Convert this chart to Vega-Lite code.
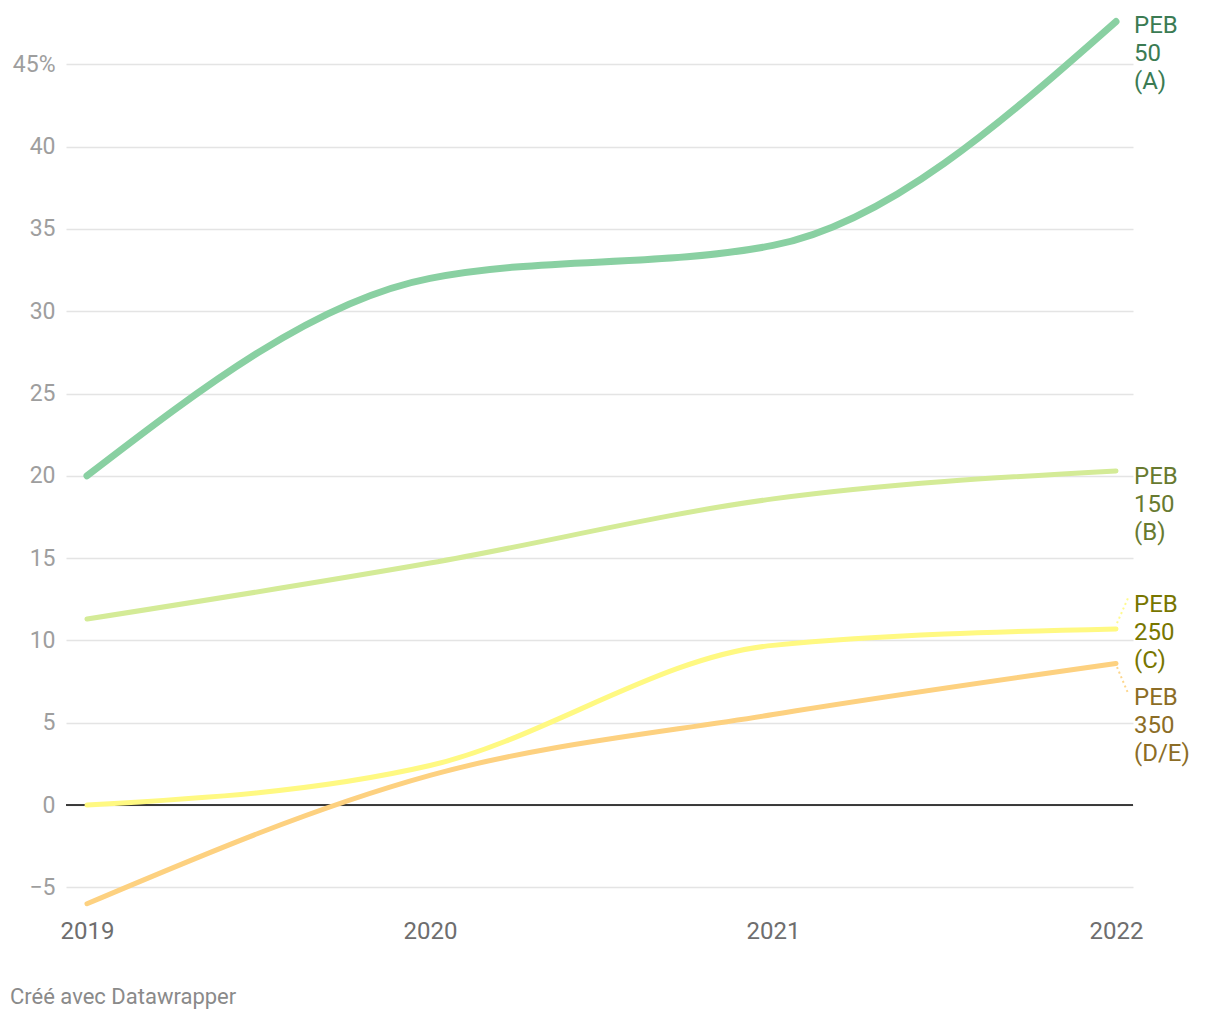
{
  "$schema": "https://vega.github.io/schema/vega-lite/v6.json",
  "width": 1067,
  "height": 897,
  "autosize": "none",
  "padding": {"left": 66, "top": 15, "right": 87, "bottom": 108},
  "background": "white",
  "config": {"font": "Roboto", "view": {"stroke": null}},
  "title": {
    "text": "Créé avec Datawrapper",
    "orient": "bottom",
    "anchor": "start",
    "frame": "group",
    "dx": -56,
    "offset": 44,
    "fontSize": 22,
    "fontWeight": "normal",
    "color": "#8a8a8a"
  },
  "datasets": {
    "lines": [
      {"series": "PEB 50", "year": 2019, "value": 20.0},
      {"series": "PEB 50", "year": 2020, "value": 32.0},
      {"series": "PEB 50", "year": 2021, "value": 34.0},
      {"series": "PEB 50", "year": 2022, "value": 47.6},
      {"series": "PEB 150", "year": 2019, "value": 11.3},
      {"series": "PEB 150", "year": 2020, "value": 14.7},
      {"series": "PEB 150", "year": 2021, "value": 18.6},
      {"series": "PEB 150", "year": 2022, "value": 20.3},
      {"series": "PEB 250", "year": 2019, "value": 0.0},
      {"series": "PEB 250", "year": 2020, "value": 2.4},
      {"series": "PEB 250", "year": 2021, "value": 9.7},
      {"series": "PEB 250", "year": 2022, "value": 10.7},
      {"series": "PEB 350", "year": 2019, "value": -6.0},
      {"series": "PEB 350", "year": 2020, "value": 1.8},
      {"series": "PEB 350", "year": 2021, "value": 5.5},
      {"series": "PEB 350", "year": 2022, "value": 8.6}
    ],
    "labels": [
      {"series": "PEB 50", "label": "PEB\n50\n(A)", "year": 2022, "value": 45.67},
      {"series": "PEB 150", "label": "PEB\n150\n(B)", "year": 2022, "value": 18.28},
      {"series": "PEB 250", "label": "PEB\n250\n(C)", "year": 2022, "value": 10.51},
      {"series": "PEB 350", "label": "PEB\n350\n(D/E)", "year": 2022, "value": 4.86}
    ],
    "connectors": [
      {"series": "PEB 250", "x1": 2022.003, "y1": 11.05, "x2": 2022.035, "y2": 12.57},
      {"series": "PEB 350", "x1": 2022.003, "y1": 8.38, "x2": 2022.035, "y2": 6.8}
    ]
  },
  "layer": [
    {
      "data": {"values": [{"v": 0}]},
      "mark": {"type": "rule", "color": "#000000", "strokeWidth": 1.5},
      "encoding": {
        "x": {"value": 0},
        "x2": {"value": 1067},
        "y": {
          "field": "v", "type": "quantitative",
          "scale": {"domain": [-6.5, 48], "nice": false, "zero": false},
          "axis": {
            "values": [-5, 0, 5, 10, 15, 20, 25, 30, 35, 40, 45], "title": null,
            "grid": true, "gridColor": "#e4e4e4", "gridWidth": 1.5,
            "ticks": false, "domain": false,
            "labelFontSize": 23, "labelColor": "#9e9e9e", "labelPadding": 11,
            "labelFont": "Roboto",
            "labelExpr": "datum.value == 45 ? '45%' : (datum.value < 0 ? '−' + abs(datum.value) : '' + datum.value)"
          }
        }
      }
    },
    {
      "data": {"name": "lines"},
      "transform": [{"filter": "datum.series != 'PEB 50'"}],
      "mark": {"type": "line", "interpolate": "monotone", "strokeWidth": 5, "strokeCap": "round", "strokeJoin": "round"},
      "encoding": {
        "x": {
          "field": "year", "type": "quantitative",
          "scale": {"domain": [2018.9388, 2022.0496], "nice": false, "zero": false},
          "axis": {
            "values": [2019, 2020, 2021, 2022], "format": "d", "title": null,
            "grid": false, "ticks": false, "domain": false,
            "labelFontSize": 24, "labelColor": "#6e6e6e", "labelPadding": 7,
            "labelFont": "Roboto"
          }
        },
        "y": {"field": "value", "type": "quantitative"},
        "color": {
          "field": "series", "type": "nominal",
          "scale": {"domain": ["PEB 50", "PEB 150", "PEB 250", "PEB 350"], "range": ["#89d0a2", "#d4eb97", "#fff982", "#fdd180"]},
          "legend": null
        },
        "detail": {"field": "series"}
      }
    },
    {
      "data": {"name": "lines"},
      "transform": [{"filter": "datum.series == 'PEB 50'"}],
      "mark": {"type": "line", "interpolate": "monotone", "strokeWidth": 7, "strokeCap": "round", "strokeJoin": "round"},
      "encoding": {
        "x": {"field": "year", "type": "quantitative"},
        "y": {"field": "value", "type": "quantitative"},
        "color": {
          "field": "series", "type": "nominal",
          "scale": {"domain": ["PEB 50", "PEB 150", "PEB 250", "PEB 350"], "range": ["#89d0a2", "#d4eb97", "#fff982", "#fdd180"]},
          "legend": null
        }
      }
    },
    {
      "data": {"name": "connectors"},
      "mark": {"type": "rule", "strokeWidth": 2, "strokeDash": [2, 3], "opacity": 0.9},
      "encoding": {
        "x": {"field": "x1", "type": "quantitative"},
        "y": {"field": "y1", "type": "quantitative"},
        "x2": {"field": "x2"},
        "y2": {"field": "y2"},
        "color": {
          "field": "series", "type": "nominal",
          "scale": {"domain": ["PEB 50", "PEB 150", "PEB 250", "PEB 350"], "range": ["#89d0a2", "#d4eb97", "#fff982", "#fdd180"]},
          "legend": null
        }
      }
    },
    {
      "data": {"name": "labels"},
      "mark": {"type": "text", "align": "left", "baseline": "middle", "dx": 18, "dy": -27, "fontSize": 24, "lineHeight": 28, "lineBreak": "\n", "font": "Roboto"},
      "encoding": {
        "x": {"field": "year", "type": "quantitative"},
        "y": {"field": "value", "type": "quantitative"},
        "text": {"field": "label"},
        "color": {
          "field": "series", "type": "nominal",
          "scale": {"domain": ["PEB 50", "PEB 150", "PEB 250", "PEB 350"], "range": ["#3b7b53", "#687a30", "#787600", "#8c6d26"]},
          "legend": null
        }
      }
    }
  ],
  "resolve": {"scale": {"color": "independent"}}
}
